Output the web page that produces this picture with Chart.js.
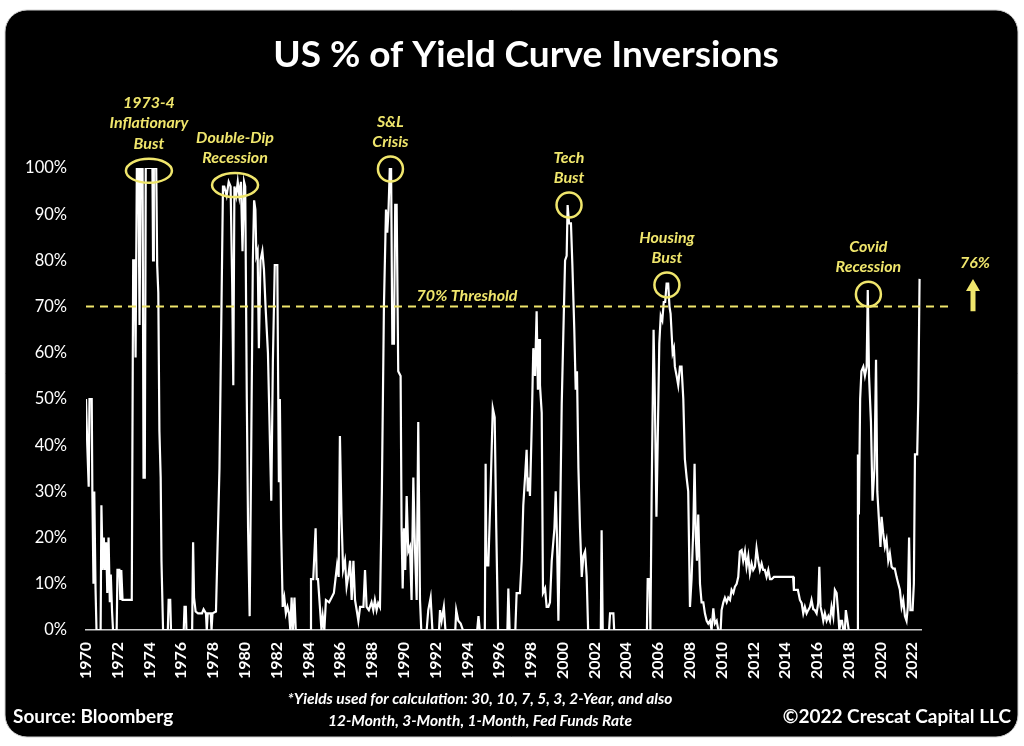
<!DOCTYPE html>
<html>
<head>
<meta charset="utf-8">
<script src="https://cdn.jsdelivr.net/npm/chart.js@4.4.1/dist/chart.umd.min.js"></script>
<style>
  html, body { margin: 0; padding: 0; background: #ffffff; overflow: hidden; }
  canvas { display: block; }
</style>
</head>
<body>
<canvas id="c" width="1024" height="746"></canvas>
<script>
// ---- DATA: [decimal year, % of yield curve pairs inverted] ----
const d1970s = [
  [1970.0,50],[1970.04,50],[1970.08,40],[1970.17,31],[1970.22,50],[1970.36,50],[1970.4,30],[1970.47,10],
  [1970.52,30],[1970.6,9],[1970.66,0],[1970.92,0],[1970.97,27],[1971.05,13],[1971.12,20],[1971.2,13],
  [1971.27,19],[1971.34,8],[1971.42,20],[1971.5,6],[1971.56,12],[1971.64,4],[1971.7,0],[1971.93,0],
  [1971.98,13],[1972.1,13],[1972.16,6.5],[1972.22,13],[1972.3,6.5],[1972.88,6.5],[1972.97,80],[1973.05,80],
  [1973.12,59],[1973.2,100],[1973.3,100],[1973.37,66],[1973.44,100],[1973.56,100],[1973.62,33],[1973.7,33],
  [1973.76,100],[1974.18,100],[1974.22,80],[1974.27,100],[1974.42,100],[1974.48,79],[1974.55,73],[1974.62,43],
  [1974.7,33],[1974.75,15],[1974.85,0],[1975.15,0],[1975.2,6.5],[1975.3,6.5],[1975.35,0],[1976.15,0],
  [1976.2,5],[1976.28,5],[1976.32,0],[1976.68,0],[1976.74,19],[1976.8,7],[1976.9,4],[1977.05,3.6],
  [1977.3,3.6],[1977.4,4.5],[1977.55,3.6],[1977.6,0],[1977.66,3.6],[1977.85,3.6],[1977.9,0],[1977.96,3.6],
  [1978.18,4],[1978.4,35],[1978.62,96],[1978.7,96],[1978.85,94],[1978.98,97],[1979.1,96],[1979.2,75],
  [1979.27,53],[1979.34,96],[1979.45,94],[1979.55,97],[1979.65,94],[1979.75,97],[1979.85,82],[1979.95,97]
];
const d1980s = [
  [1980.02,96],[1980.12,50],[1980.2,22],[1980.3,3],[1980.4,40],[1980.5,80],[1980.58,93],[1980.66,91],
  [1980.72,81],[1980.8,82],[1980.88,61],[1980.98,80],[1981.1,82],[1981.2,78],[1981.3,70],[1981.45,60],
  [1981.58,40],[1981.66,28],[1981.76,58],[1981.88,79],[1982.04,79],[1982.1,50],[1982.14,32],[1982.2,50],
  [1982.28,22],[1982.38,5],[1982.48,7],[1982.58,3.6],[1982.68,5],[1982.78,3.6],[1982.86,0],[1982.94,7],
  [1983.02,0],[1983.12,7],[1983.2,0],[1984.12,0],[1984.16,11],[1984.3,11],[1984.45,22],[1984.52,11],
  [1984.6,11],[1984.72,5],[1984.82,0],[1984.9,3],[1985.0,0],[1985.1,6.5],[1985.3,6],[1985.45,7],
  [1985.6,8],[1985.7,11],[1985.8,14],[1985.9,11.5],[1985.98,42],[1986.08,24.5],[1986.18,13],[1986.3,15],
  [1986.4,9.4],[1986.52,12],[1986.62,15],[1986.72,6.5],[1986.83,15],[1986.93,6.5],[1987.05,4],[1987.14,2],
  [1987.25,5],[1987.46,5],[1987.56,13],[1987.66,5],[1987.8,4.3],[1987.97,6],[1988.08,4.3],[1988.18,6.5],
  [1988.29,4.3],[1988.39,5.8],[1988.5,5],[1988.62,30],[1988.75,70],[1988.88,91],[1988.96,86],[1989.04,91],
  [1989.12,100],[1989.2,100],[1989.28,62],[1989.38,62],[1989.46,92],[1989.55,92],[1989.65,56],[1989.8,55],
  [1989.86,22],[1989.93,9]
];
const d1990s = [
  [1990.01,22],[1990.09,13],[1990.18,29],[1990.28,17],[1990.39,18],[1990.49,6.5],[1990.6,33],[1990.7,18],
  [1990.81,6.5],[1990.91,45],[1991.02,6.5],[1991.1,0],[1991.44,0],[1991.54,4.3],[1991.69,7],[1991.8,0],
  [1992.22,0],[1992.28,4.3],[1992.38,2],[1992.52,5],[1992.62,0],[1993.24,0],[1993.3,4.3],[1993.43,2],
  [1993.58,1.4],[1993.72,0],[1994.62,0],[1994.7,3],[1994.78,0],[1995.1,0],[1995.15,36],[1995.2,14],
  [1995.32,14],[1995.46,30],[1995.6,48],[1995.72,46],[1995.82,22],[1995.93,0],[1996.52,0],[1996.58,9],
  [1996.66,0],[1997.02,0],[1997.1,8],[1997.2,8],[1997.31,8],[1997.42,15],[1997.52,27],[1997.63,33],
  [1997.73,39],[1997.8,30],[1997.88,33],[1997.94,29],[1998.05,44],[1998.15,61],[1998.26,55],[1998.36,69],
  [1998.44,52],[1998.51,63],[1998.57,53],[1998.68,47],[1998.76,8],[1998.89,9],[1998.99,5],[1999.1,5],
  [1999.2,6],[1999.31,15],[1999.48,22],[1999.56,30],[1999.64,20],[1999.73,2],[1999.83,22],[1999.94,49]
];
const d2000s = [
  [2000.04,64],[2000.15,80],[2000.25,81],[2000.31,92],[2000.4,88],[2000.52,88],[2000.61,79],[2000.73,65],
  [2000.82,52],[2000.9,56],[2000.99,35],[2001.09,22],[2001.2,11.5],[2001.3,16],[2001.41,17],[2001.51,11.5],
  [2001.6,0],[2002.4,0],[2002.45,21.6],[2002.52,0],[2002.92,0],[2002.98,3.6],[2003.19,3.6],[2003.24,0],
  [2005.3,0],[2005.35,11],[2005.47,11],[2005.52,0],[2005.6,30],[2005.72,65],[2005.8,50],[2005.9,24.5],
  [2006.0,45],[2006.08,62],[2006.17,68],[2006.27,67],[2006.36,71],[2006.45,71],[2006.54,75],[2006.64,75],
  [2006.72,70],[2006.79,68.5],[2006.92,60],[2007.0,61],[2007.06,57],[2007.17,55],[2007.27,53],[2007.38,57],
  [2007.48,57],[2007.59,50],[2007.69,37],[2007.8,33],[2007.9,30],[2008.01,5],[2008.11,11],[2008.22,22],
  [2008.3,36],[2008.38,20],[2008.45,15],[2008.53,25],[2008.64,10],[2008.74,6],[2008.85,6],[2008.95,3.6],
  [2009.06,2],[2009.16,1.4],[2009.27,2],[2009.37,0],[2009.48,4.7],[2009.58,1.4],[2009.69,2],[2009.79,0],
  [2009.94,0]
];
const d2010s = [
  [2010.0,4.3],[2010.11,6],[2010.21,7],[2010.32,6],[2010.42,7],[2010.53,6.5],[2010.63,8.7],[2010.74,8],
  [2010.84,9.4],[2010.95,10],[2011.05,11.5],[2011.15,17],[2011.26,17.3],[2011.36,15],[2011.47,17],[2011.57,13.7],
  [2011.68,16],[2011.78,12.3],[2011.89,14.4],[2011.99,13],[2012.1,13.7],[2012.2,17.7],[2012.31,15],[2012.41,13],
  [2012.52,14.4],[2012.62,13],[2012.72,13],[2012.83,11.5],[2012.94,13],[2013.05,11],[2013.15,11],[2013.3,11.5],
  [2014.5,11.5],[2014.55,8.7],[2014.8,8.7],[2014.93,6.5],[2015.04,5.8],[2015.14,3.6],[2015.24,5],[2015.35,3.6],
  [2015.45,4.3],[2015.56,5],[2015.66,6.5],[2015.77,4.5],[2015.87,4.3],[2015.98,3.6],[2016.08,5.8],[2016.15,13.7],
  [2016.23,5],[2016.32,3.6],[2016.4,2],[2016.5,3.6],[2016.61,2],[2016.72,3],[2016.82,2],[2016.92,5],
  [2017.03,2.9],[2017.13,8.7],[2017.24,8],[2017.34,3.6],[2017.41,0],[2017.5,2],[2017.58,2],[2017.66,0],
  [2017.76,0],[2017.82,4.3],[2017.92,2],[2018.0,0],[2018.54,0],[2018.58,38],[2018.64,25],[2018.72,50],
  [2018.8,56],[2018.92,57],[2019.02,55],[2019.13,57],[2019.2,73.6],[2019.28,55],[2019.4,45],[2019.5,28],
  [2019.62,35],[2019.72,58.5],[2019.8,30],[2019.9,24]
];
const d2020s = [
  [2020.0,18],[2020.07,24.5],[2020.17,21],[2020.28,18],[2020.38,19.5],[2020.49,15],[2020.59,16.6],[2020.7,13.7],
  [2020.8,13.3],[2020.9,13.3],[2021.01,11.5],[2021.12,10],[2021.22,8.7],[2021.33,5],[2021.43,6.5],[2021.54,3],
  [2021.64,2],[2021.72,5],[2021.8,20],[2021.88,4.3],[2022.02,4.3],[2022.1,10],[2022.17,38],[2022.31,38],
  [2022.38,50],[2022.46,76]
];

// tick labels
const tickYears = [1970,1972,1974,1976,1978,1980,1982,1984,1986,1988,1990,1992,1994,1996,1998,
                   2000,2002,2004,2006,2008,2010,2012,2014,2016,2018,2020,2022];
const yTicks = [0,10,20,30,40,50,60,70,80,90,100];

// annotations
const eventLabels = [["1973-4","Inflationary","Bust"],["Double-Dip","Recession"],["S&L","Crisis"],
                     ["Tech","Bust"],["Housing","Bust"],["Covid","Recession"]];
const eventYears  = [1973.96, 1979.38, 1989.16, 2000.40, 2006.56, 2019.24];
const eventValues = [99.4, 96.3, 99.8, 92.0, 74.7, 72.7];
const eventWide   = [true, true, false, false, false, false];
const threshold = 70;
const thresholdLabel = "70% Threshold";
const thresholdLabelYear = 1993.98;

const titleText = "US % of Yield Curve Inversions";
const footnote = ["*Yields used for calculation: 30, 10, 7, 5, 3, 2-Year, and also",
                  "12-Month, 3-Month, 1-Month, Fed Funds Rate"];
const sourceText = "Source: Bloomberg";
const copyText = "\u00A92022 Crescat Capital LLC";

const series = [].concat(d1970s, d1980s, d1990s, d2000s, d2010s, d2020s);
const lastValue = series[series.length - 1][1];

const YELLOW = '#f0e66c';
const FONT = 'Lato, "Open Sans", "Liberation Sans", sans-serif';

const decorPlugin = {
  id: 'decor',
  beforeDraw(chart) {
    const ctx = chart.ctx;
    ctx.save();
    ctx.fillStyle = '#ffffff';
    ctx.fillRect(0, 0, chart.width, chart.height);
    ctx.beginPath();
    ctx.roundRect(5, 10, 1013, 727, 22);
    ctx.fillStyle = '#000000';
    ctx.fill();
    ctx.strokeStyle = '#cfcfcf';
    ctx.lineWidth = 1;
    ctx.stroke();
    ctx.restore();
  },
  afterDatasetsDraw(chart) {
    const ctx = chart.ctx;
    const xs = chart.scales.x, ys = chart.scales.y;
    const area = chart.chartArea;
    ctx.save();
    // threshold line
    const ty = ys.getPixelForValue(threshold);
    ctx.strokeStyle = YELLOW;
    ctx.lineWidth = 2;
    ctx.setLineDash([8, 6]);
    ctx.beginPath();
    ctx.moveTo(area.left, ty);
    ctx.lineTo(area.right + 27, ty);
    ctx.stroke();
    ctx.setLineDash([]);
    ctx.fillStyle = YELLOW;
    ctx.font = 'italic bold 16px ' + FONT;
    ctx.textAlign = 'center';
    ctx.textBaseline = 'middle';
    ctx.fillText(thresholdLabel, xs.getPixelForValue(thresholdLabelYear), ty - 11);

    // event circles + labels
    ctx.lineWidth = 2.5;
    eventYears.forEach((yr, i) => {
      const cx = xs.getPixelForValue(yr);
      const cy = ys.getPixelForValue(eventValues[i]);
      ctx.beginPath();
      ctx.ellipse(cx, cy, eventWide[i] ? 23 : 12.5, eventWide[i] ? 12 : 12.5, 0, 0, Math.PI * 2);
      ctx.stroke();
      const lines = eventLabels[i];
      lines.forEach((t, j) => {
        ctx.fillText(t, cx, cy - 27 - (lines.length - 1 - j) * 20.5);
      });
    });

    // latest value arrow
    const ax = area.right + 52;
    const yBot = ys.getPixelForValue(threshold - 1);
    const yTip = ys.getPixelForValue(lastValue);
    ctx.beginPath();
    ctx.moveTo(ax, yTip);
    ctx.lineTo(ax + 7, yTip + 12);
    ctx.lineTo(ax + 2.5, yTip + 12);
    ctx.lineTo(ax + 2.5, yBot);
    ctx.lineTo(ax - 2.5, yBot);
    ctx.lineTo(ax - 2.5, yTip + 12);
    ctx.lineTo(ax - 7, yTip + 12);
    ctx.closePath();
    ctx.fill();
    ctx.fillText(lastValue + '%', ax + 2, ys.getPixelForValue(lastValue + 3.5));
    ctx.restore();
  },
  afterDraw(chart) {
    const ctx = chart.ctx;
    ctx.save();
    ctx.fillStyle = '#ffffff';
    ctx.textBaseline = 'middle';
    ctx.textAlign = 'center';
    ctx.font = 'bold 37px ' + FONT;
    ctx.fillText(titleText, 526, 55);
    ctx.font = 'italic bold 15.5px ' + FONT;
    ctx.fillText(footnote[0], 480, 699);
    ctx.fillText(footnote[1], 480, 721);
    ctx.font = 'bold 19px ' + FONT;
    ctx.textAlign = 'left';
    ctx.fillText(sourceText, 13, 717);
    ctx.textAlign = 'right';
    ctx.fillText(copyText, 1011, 717);
    ctx.restore();
  }
};

new Chart(document.getElementById('c'), {
  type: 'line',
  data: {
    datasets: [{
      data: series.map(p => ({ x: p[0], y: p[1] })),
      borderColor: '#ffffff',
      borderWidth: 2.2,
      pointRadius: 0,
      tension: 0,
      fill: false
    }]
  },
  options: {
    responsive: false,
    animation: false,
    layout: { padding: { top: 168, right: 103, left: 0, bottom: 0 } },
    plugins: { legend: { display: false }, tooltip: { enabled: false }, title: { display: false } },
    scales: {
      x: {
        type: 'linear',
        min: 1970,
        max: 2022.55,
        afterBuildTicks: s => { s.ticks = tickYears.map(v => ({ value: v })); },
        afterFit: s => { s.height = 116; },
        grid: { display: false, drawTicks: false },
        border: { display: true, color: '#cfcfcf', width: 1.5 },
        ticks: {
          color: '#ffffff',
          font: { family: FONT, size: 16, weight: 'bold' },
          minRotation: 90,
          maxRotation: 90,
          autoSkip: false,
          padding: 12,
          callback: v => String(v)
        }
      },
      y: {
        min: 0,
        max: 100,
        afterBuildTicks: s => { s.ticks = yTicks.map(v => ({ value: v })); },
        afterFit: s => { s.width = 86; },
        grid: { display: false, drawTicks: false },
        border: { display: false },
        ticks: {
          color: '#ffffff',
          font: { family: FONT, size: 16.5 },
          padding: 19,
          callback: v => v + '%'
        }
      }
    }
  },
  plugins: [decorPlugin]
});
</script>
</body>
</html>
